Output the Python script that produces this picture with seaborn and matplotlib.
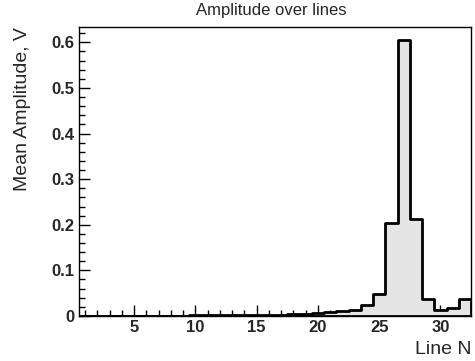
import numpy as np
import pandas as pd
import matplotlib
matplotlib.use('Agg')
import matplotlib.pyplot as plt
import seaborn as sns
from matplotlib.ticker import MultipleLocator

# 라인 번호별 평균 진폭
line_n = list(range(1, 33))
mean_amp = [0.001, 0.001, 0.001, 0.001, 0.001, 0.001, 0.001, 0.001, 0.001, 0.0015,
            0.0015, 0.002, 0.002, 0.002, 0.002, 0.003, 0.003, 0.004, 0.004, 0.006,
            0.008, 0.010, 0.013, 0.023, 0.048, 0.204, 0.605, 0.213, 0.038, 0.013,
            0.017, 0.038]

df = pd.DataFrame({'line': line_n, 'amp': mean_amp})

sns.set_style('white')
plt.rcParams['font.family'] = ['Liberation Sans', 'DejaVu Sans']

fig = plt.figure(figsize=(4.75, 3.61), dpi=100)
ax = fig.add_axes([0.1663, 0.1247, 0.8253, 0.8005])

sns.histplot(data=df, x='line', weights='amp', discrete=True,
             element='step', fill=True, color='#e5e5e5', alpha=1,
             edgecolor='black', linewidth=2, ax=ax)

ax.set_xlim(0.5, 32.5)
ax.set_ylim(0, 0.6335)

ax.xaxis.set_major_locator(MultipleLocator(5))
ax.xaxis.set_minor_locator(MultipleLocator(1))
ax.yaxis.set_major_locator(MultipleLocator(0.1))
ax.yaxis.set_minor_locator(MultipleLocator(0.02))
ax.set_xticks([5, 10, 15, 20, 25, 30])
ax.set_yticks([0, 0.1, 0.2, 0.3, 0.4, 0.5, 0.6])
ax.set_yticklabels(['0', '0.1', '0.2', '0.3', '0.4', '0.5', '0.6'])

ax.tick_params(which='both', direction='in', top=False, right=False,
               bottom=True, left=True, color='black')
ax.tick_params(which='major', length=8, width=1, labelsize=12, pad=3)
ax.tick_params(which='minor', length=4, width=1)
for lab in ax.get_xticklabels() + ax.get_yticklabels():
    lab.set_fontweight('bold')

for s in ax.spines.values():
    s.set_color('black')
    s.set_linewidth(1)

ax.set_xlabel('')
ax.set_ylabel('')
fig.text(0.9916, 0.033, 'Line N', ha='right', va='center', fontsize=14)
fig.text(0.048, 0.9252, 'Mean Amplitude, V', rotation=90, ha='center', va='top', fontsize=14)
fig.text(0.57, 0.972, 'Amplitude over lines', ha='center', va='center', fontsize=12)

fig.savefig('out.png', dpi=100)
